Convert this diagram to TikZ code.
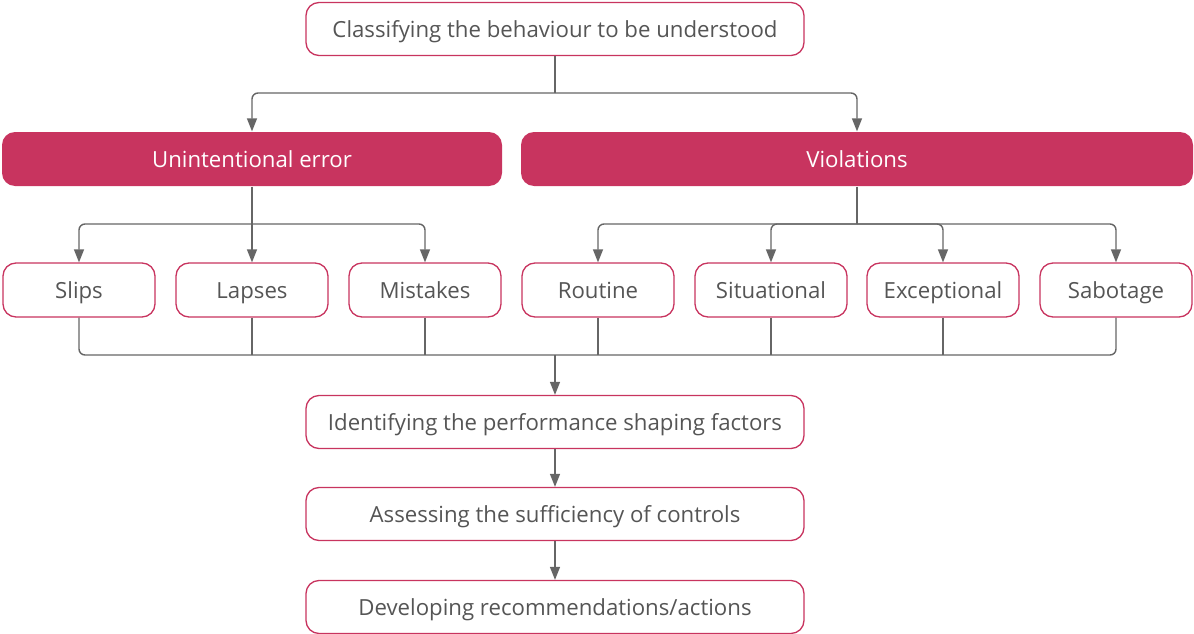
\documentclass[tikz,border=0pt]{standalone}
\usepackage{fontspec}
\setmainfont{Open Sans}
\usetikzlibrary{arrows.meta}
\definecolor{rose}{HTML}{C8345F}
\definecolor{ink}{HTML}{555555}
\definecolor{wire}{HTML}{666666}
\begin{document}
\begin{tikzpicture}[x=1pt,y=-1pt,
  box/.style={draw=rose, line width=1.3pt, rounded corners=13pt, fill=white,
    text=ink, font=\fontsize{22.2}{26}\selectfont, inner sep=0pt,
    text height=19pt, text depth=2pt, anchor=center},
  wide/.style={box, minimum width=498pt, minimum height=53pt},
  small/.style={box, minimum width=152pt, minimum height=54pt},
  head/.style={box, draw=none, fill=rose, text=white, minimum height=54pt},
  conn/.style={draw=wire, line width=1.4pt, rounded corners=6pt},
  arr/.style={conn, -{Triangle[length=13pt,width=10pt]}}]
\useasboundingbox (0,0) rectangle (1194,634);

% process steps
\node[wide] (classify) at (555,29) {Classifying the behaviour to be understood};
\node[wide] (psf) at (555,422) {Identifying the performance shaping factors};
\node[wide] (assess) at (555,514) {Assessing the sufficiency of controls};
\node[wide] (recommend) at (555,607) {Developing recommendations/actions};

% behaviour categories
\node[head, minimum width=500pt] (error) at (252,159) {Unintentional error};
\node[head, minimum width=672pt] (viol) at (857,159) {Violations};

% sub-types
\node[small] (slips) at (79,290) {Slips};
\node[small] (lapses) at (252,290) {Lapses};
\node[small] (mistakes) at (425,290) {Mistakes};
\node[small] (routine) at (598,290) {Routine};
\node[small] (situational) at (771,290) {Situational};
\node[small] (exceptional) at (943,290) {Exceptional};
\node[small] (sabotage) at (1116,290) {Sabotage};

% junction points
\coordinate (split) at (555,93);
\coordinate (errsplit) at (252,224);
\coordinate (violsplit) at (857,224);
\coordinate (join) at (555,355);

% classification split
\draw[conn] (classify.south) -- (split);
\draw[arr] (split) -| (error.north);
\draw[arr] (split) -| (viol.north);

% error sub-types
\draw[conn] (error.south) -- (errsplit);
\draw[arr] (errsplit) -| (slips.north);
\draw[arr] (errsplit) -- (lapses.north);
\draw[arr] (errsplit) -| (mistakes.north);

% violation sub-types
\draw[conn] (viol.south) -- (violsplit);
\draw[arr] (violsplit) -| (routine.north);
\draw[arr] (violsplit) -| (situational.north);
\draw[arr] (violsplit) -| (exceptional.north);
\draw[arr] (violsplit) -| (sabotage.north);

% gathering line under the sub-types
\draw[conn] (slips.south) |- (join) -| (sabotage.south);
\foreach \n in {lapses,mistakes,routine,situational,exceptional}
  \draw[conn] (\n.south) -- (\n.south |- join);

% remaining steps
\draw[arr] (join) -- (psf.north);
\draw[arr] (psf.south) -- (assess.north);
\draw[arr] (assess.south) -- (recommend.north);
\end{tikzpicture}
\end{document}
